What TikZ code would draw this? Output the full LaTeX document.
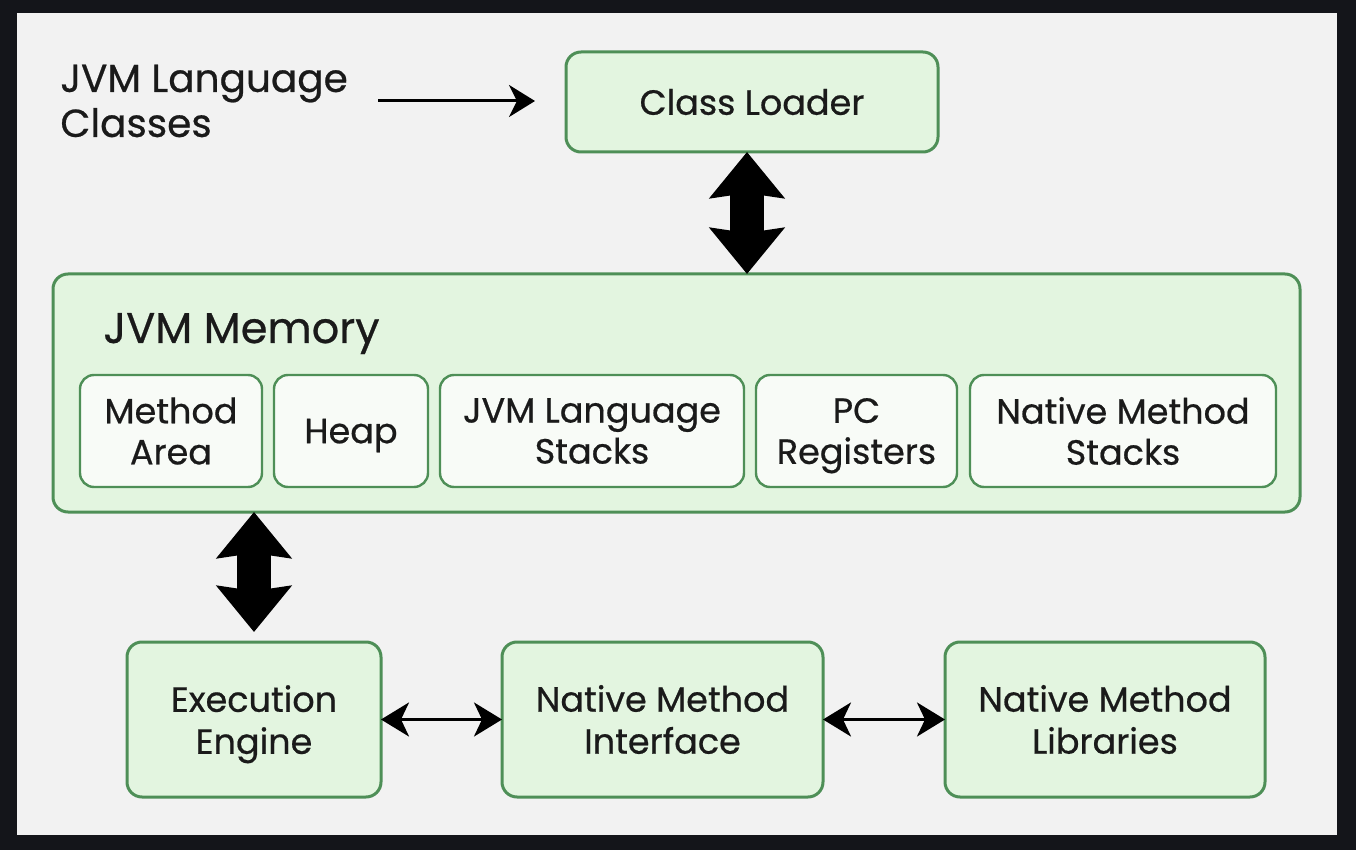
\documentclass[tikz,border=0pt]{standalone}
\usepackage{fontspec}
\setmainfont{Poppins}[FakeBold=0.6]
\usetikzlibrary{positioning,arrows.meta}
\definecolor{frame}{HTML}{14151A}
\definecolor{paper}{HTML}{F2F2F2}
\definecolor{boxfill}{HTML}{E3F5E0}
\definecolor{boxline}{HTML}{4E8F57}
\definecolor{cellfill}{HTML}{F8FBF7}
\definecolor{ink}{HTML}{1A1A1A}

\begin{document}
\begin{tikzpicture}[x=1pt, y=1pt, node distance=6pt, text=ink,
  main/.style = {draw=boxline, fill=boxfill, line width=1.5pt, rounded corners=7.5pt, align=center, font=\fontsize{17.5}{21}\selectfont, inner sep=0pt, outer sep=0pt},
  cell/.style = {draw=boxline, fill=cellfill, line width=1.2pt, rounded corners=7pt, align=center, font=\fontsize{17.5}{20.5}\selectfont, minimum height=56pt, inner sep=0pt, outer sep=0pt},
  link/.style = {line width=1.5pt, {Stealth[length=14pt,width=17pt,inset=4pt]}-{Stealth[length=14pt,width=17pt,inset=4pt]}},
  big/.style = {line width=17pt, {Stealth[length=23pt,width=37pt,inset=2.5pt]}-{Stealth[length=23pt,width=37pt,inset=2.5pt]}}]
\fill[frame] (0,0) rectangle (678,-425);
\fill[paper] (8.5,-6.5) rectangle (668.5,-417.5);
\node[main, minimum width=186pt, minimum height=50pt] (loader) at (376,-51) {Class Loader};
\node[anchor=west, align=left, inner sep=0pt, font=\fontsize{19.5}{22.5}\selectfont] (classes) at (30,-50.5) {JVM Language\\Classes};
\node[main, minimum width=623.5pt, minimum height=119pt] (mem) at (338.25,-196.5) {};
\node[anchor=base west, inner sep=0pt, font=\fontsize{21.5}{24}\selectfont] (memlabel) at (51.5,-171.5) {JVM Memory};
\node[cell, minimum width=91pt] (method) at (85.5,-215.5) {Method\\Area};
\node[cell, minimum width=77pt, text depth=0pt, right=of method] (heap) {Heap};
\node[cell, minimum width=152pt, right=of heap] (stacks) {JVM Language\\Stacks};
\node[cell, minimum width=100.5pt, right=of stacks] (pc) {PC\\\smash{Registers}};
\node[cell, minimum width=153pt, right=6.5pt of pc] (native) {Native Method\\Stacks};
\node[main, minimum width=127pt, minimum height=77.5pt] (ee) at (127,-359.75) {Execution\\\smash{Engine}};
\node[main, minimum width=160.5pt, minimum height=77.5pt, right=60.5pt of ee] (nmi) {Native Method\\Interface};
\node[main, minimum width=160pt, minimum height=77.5pt, right=61pt of nmi] (nml) {Native Method\\Libraries};
\draw[-{Stealth[length=13pt,width=16pt,inset=4pt]}, line width=1.5pt, shorten <=15pt, shorten >=15.5pt] (classes.east) -- (classes.east -| loader.west);
\draw[big] ([xshift=-2.5pt]loader.south) -- ([xshift=-2.5pt]loader.south |- mem.north);
\draw[big, shorten >=5pt] (mem.south -| ee.north) -- (ee.north);
\draw[link] (ee.east) -- (nmi.west);
\draw[link] (nmi.east) -- (nml.west);
\end{tikzpicture}
\end{document}
